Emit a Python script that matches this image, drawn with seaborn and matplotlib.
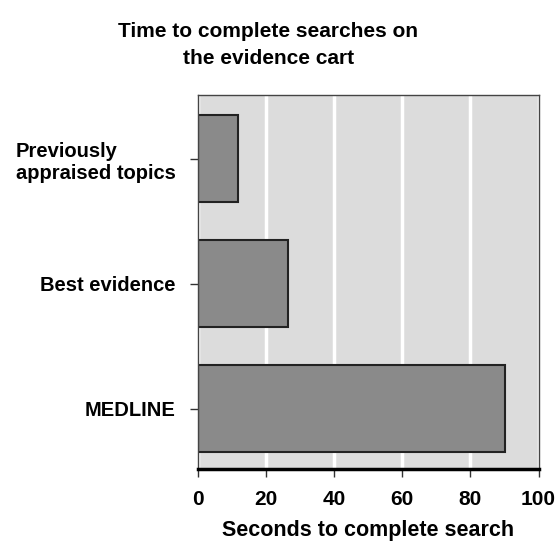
import matplotlib
matplotlib.use("Agg")
import matplotlib.pyplot as plt
import seaborn as sns
import pandas as pd

categories = ["Previously\nappraised topics", "Best evidence", "MEDLINE"]
seconds = [11.6, 26.5, 90.3]
xticks = [0, 20, 40, 60, 80, 100]

df = pd.DataFrame({"category": categories, "seconds": seconds})

sns.set_style("white", {"xtick.bottom": True, "ytick.left": True,
                        "text.color": "black", "xtick.color": "black",
                        "ytick.color": "black", "axes.labelcolor": "black"})
plt.rcParams["font.family"] = ["Liberation Sans", "DejaVu Sans"]

fig = plt.figure(figsize=(5.57, 5.46), dpi=100)
ax = fig.add_axes([0.3555, 0.141, 0.6113, 0.685])
ax.set_facecolor("#dcdcdc")

sns.barplot(data=df, x="seconds", y="category", orient="h", color="#8a8a8a",
            saturation=1, width=0.7, edgecolor="#222222", linewidth=1.5, ax=ax)

ax.set_xlim(0, 100)
ax.set_ylim(2.484, -0.508)
ax.set_xticks(xticks)
ax.set_xticklabels([str(t) for t in xticks], fontsize=15, fontweight="bold")
ax.set_yticks(range(len(categories)))
ax.set_yticklabels(categories, fontsize=14.5, fontweight="bold", ha="right",
                   multialignment="left")
ax.grid(axis="x", color="white", linewidth=2.5)
ax.set_axisbelow(True)
ax.tick_params(axis="both", length=6, width=1, color="#333333", direction="out")
ax.tick_params(axis="x", pad=9)
ax.tick_params(axis="y", pad=10)

for s in ["left", "top", "right"]:
    ax.spines[s].set_color("#444444")
    ax.spines[s].set_linewidth(1)
ax.spines["bottom"].set_color("black")
ax.spines["bottom"].set_linewidth(2.5)

ax.set_xlabel("Seconds to complete search", fontsize=15.5, fontweight="bold", labelpad=8)
ax.set_ylabel("")

fig.text(0.482, 0.96, "Time to complete searches on\nthe evidence cart", ha="center", va="top",
         fontsize=15, fontweight="bold", linespacing=1.55)

fig.savefig("out.png", dpi=100)
